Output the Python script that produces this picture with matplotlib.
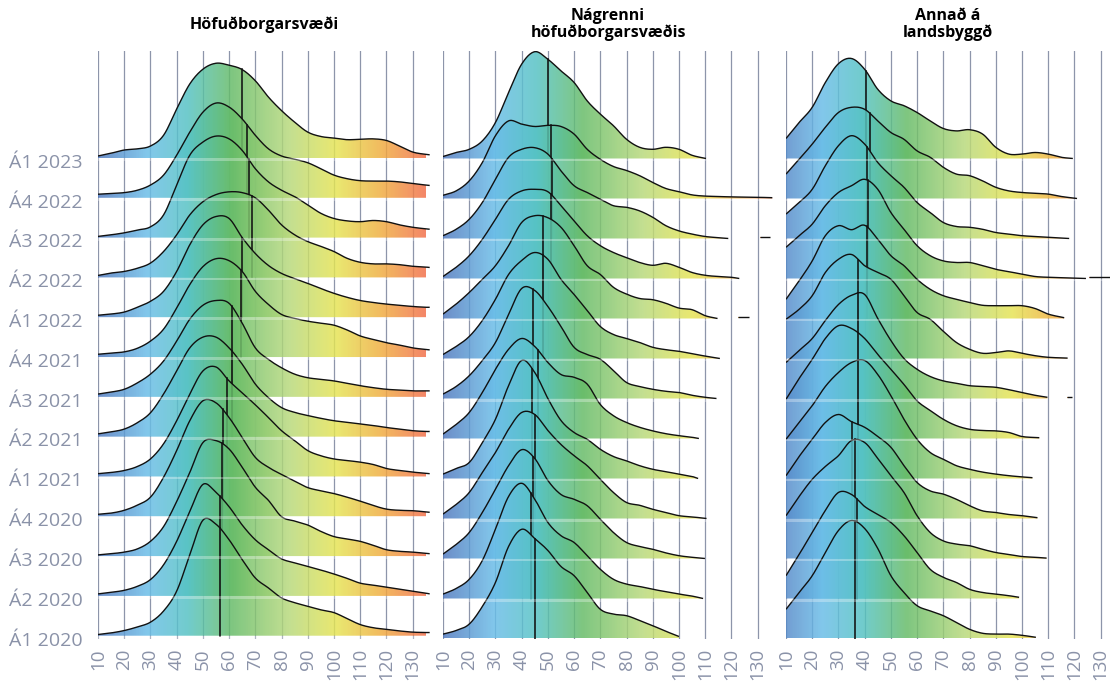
import numpy as np
import matplotlib
matplotlib.use("Agg")
import matplotlib.pyplot as plt
from matplotlib.colors import LinearSegmentedColormap

# Row labels, top row first
ROWS = ["Á1 2023", "Á4 2022", "Á3 2022", "Á2 2022", "Á1 2022", "Á4 2021", "Á3 2021",
        "Á2 2021", "Á1 2021", "Á4 2020", "Á3 2020", "Á2 2020", "Á1 2020"]
TITLES = ["Höfuðborgarsvæði", "Nágrenni\nhöfuðborgarsvæðis", "Annað á\nlandsbyggð"]
X_TICKS = list(range(10, 140, 10))

# Density heights (in row units) read at x = 10, 15, 20, ... ; the last value sits at the row's end x
P1_VALUES = [
    [0.05, 0.12, 0.2, 0.23, 0.3, 0.57, 1.23, 1.86, 2.23, 2.38, 2.33, 2.22, 1.94, 1.53, 1.19, 0.9, 0.65, 0.54, 0.5, 0.46, 0.47, 0.48, 0.44, 0.3, 0.15, 0.09, 0.08],
    [0.09, 0.11, 0.13, 0.19, 0.32, 0.57, 1.07, 1.65, 2.15, 2.38, 2.28, 1.98, 1.57, 1.23, 1.05, 0.97, 0.88, 0.73, 0.57, 0.48, 0.43, 0.42, 0.42, 0.4, 0.36, 0.32, 0.31],
    [0.03, 0.07, 0.12, 0.19, 0.27, 0.57, 1.32, 2.07, 2.4, 2.55, 2.48, 2.19, 1.73, 1.4, 1.19, 1.03, 0.82, 0.61, 0.48, 0.42, 0.4, 0.43, 0.4, 0.32, 0.26, 0.22, 0.21],
    [0.05, 0.11, 0.15, 0.23, 0.36, 0.65, 1.07, 1.57, 1.9, 2.08, 2.15, 2.13, 2.0, 1.69, 1.32, 1.07, 0.9, 0.78, 0.65, 0.48, 0.38, 0.34, 0.34, 0.32, 0.28, 0.26, 0.25],
    [0.05, 0.08, 0.13, 0.25, 0.4, 0.65, 1.15, 1.82, 2.32, 2.53, 2.48, 2.0, 1.6, 1.3, 1.1, 0.97, 0.85, 0.72, 0.6, 0.5, 0.42, 0.37, 0.33, 0.3, 0.27, 0.25, 0.25],
    [0.07, 0.1, 0.13, 0.22, 0.4, 0.7, 1.23, 1.82, 2.27, 2.47, 2.42, 2.15, 1.65, 1.32, 1.07, 0.97, 0.9, 0.85, 0.8, 0.68, 0.53, 0.44, 0.36, 0.3, 0.23, 0.19, 0.18],
    [0.07, 0.12, 0.19, 0.35, 0.57, 0.9, 1.4, 1.95, 2.3, 2.42, 2.35, 1.85, 1.23, 0.94, 0.73, 0.57, 0.48, 0.44, 0.4, 0.34, 0.28, 0.23, 0.19, 0.17, 0.15, 0.15, 0.15],
    [0.07, 0.12, 0.19, 0.35, 0.6, 1.07, 1.65, 2.23, 2.5, 2.5, 2.23, 1.82, 1.32, 0.98, 0.73, 0.61, 0.53, 0.46, 0.4, 0.36, 0.32, 0.28, 0.23, 0.19, 0.15, 0.13, 0.13],
    [0.07, 0.1, 0.15, 0.25, 0.44, 0.82, 1.4, 2.07, 2.65, 2.75, 2.4, 2.1, 1.8, 1.48, 1.15, 0.9, 0.65, 0.52, 0.44, 0.4, 0.36, 0.3, 0.2, 0.15, 0.11, 0.08, 0.07],
    [0.05, 0.08, 0.15, 0.28, 0.48, 0.98, 1.65, 2.4, 2.9, 2.85, 2.48, 1.98, 1.48, 1.23, 1.05, 0.88, 0.72, 0.64, 0.57, 0.48, 0.38, 0.27, 0.18, 0.15, 0.14, 0.11, 0.1],
    [0.03, 0.06, 0.1, 0.18, 0.37, 0.74, 1.37, 2.1, 2.85, 2.9, 2.69, 2.23, 1.73, 1.4, 0.99, 0.88, 0.78, 0.62, 0.49, 0.43, 0.37, 0.27, 0.16, 0.12, 0.1, 0.07, 0.06],
    [0.05, 0.09, 0.14, 0.24, 0.41, 0.78, 1.37, 2.12, 2.8, 2.6, 2.24, 1.78, 1.41, 1.16, 0.93, 0.83, 0.74, 0.65, 0.55, 0.44, 0.32, 0.27, 0.22, 0.17, 0.12, 0.07, 0.05],
    [0.03, 0.07, 0.13, 0.22, 0.34, 0.62, 1.12, 2.03, 2.9, 2.8, 2.41, 1.91, 1.45, 1.2, 0.95, 0.83, 0.74, 0.65, 0.58, 0.43, 0.28, 0.2, 0.16, 0.12, 0.09, 0.08, 0.08],
]
P1_ENDS = [136.5] * 13
P1_MEDIANS = [64.9, 66.8, 67.4, 68.6, 65.0, 64.6, 61.0, 61.0, 59.1, 57.6, 57.4, 56.6, 56.5]

P2_VALUES = [
    [0.05, 0.15, 0.23, 0.44, 0.9, 1.65, 2.36, 2.67, 2.48, 2.19, 1.9, 1.44, 1.11, 0.82, 0.48, 0.28, 0.23, 0.28, 0.23, 0.08, 0.0],
    [0.08, 0.19, 0.44, 0.9, 1.57, 1.94, 1.86, 1.8, 1.83, 1.8, 1.61, 1.23, 0.98, 0.8, 0.7, 0.57, 0.4, 0.25, 0.17, 0.09, 0.06, 0.05, 0.04, 0.035, 0.03, 0.02],
    [0.07, 0.23, 0.48, 0.9, 1.48, 2.03, 2.23, 2.27, 2.11, 1.69, 1.32, 1.15, 0.98, 0.82, 0.78, 0.69, 0.53, 0.32, 0.19, 0.11, 0.05, 0.02, 0.0],
    [0.05, 0.28, 0.57, 0.98, 1.48, 1.98, 2.19, 2.23, 2.17, 1.82, 1.44, 1.07, 0.82, 0.65, 0.52, 0.4, 0.33, 0.38, 0.28, 0.15, 0.08, 0.05, 0.03, 0.0],
    [0.11, 0.36, 0.65, 0.98, 1.32, 1.82, 2.4, 2.57, 2.52, 2.28, 1.82, 1.32, 1.1, 0.78, 0.61, 0.5, 0.47, 0.38, 0.26, 0.22, 0.07, 0.0],
    [0.1, 0.3, 0.55, 0.95, 1.48, 2.1, 2.45, 2.65, 2.48, 1.98, 1.6, 1.2, 0.8, 0.6, 0.5, 0.4, 0.28, 0.22, 0.18, 0.12, 0.06, 0.0],
    [0.11, 0.3, 0.57, 0.95, 1.4, 2.1, 2.75, 2.7, 2.3, 1.8, 1.28, 1.1, 0.98, 0.7, 0.4, 0.3, 0.23, 0.18, 0.15, 0.08, 0.03, 0.0],
    [0.11, 0.35, 0.65, 1.15, 1.73, 2.23, 2.5, 2.3, 1.9, 1.6, 1.53, 1.36, 0.85, 0.57, 0.4, 0.28, 0.19, 0.12, 0.07, 0.03, 0.0],
    [0.11, 0.25, 0.4, 0.9, 1.48, 2.32, 2.95, 2.65, 2.0, 1.45, 1.15, 0.98, 0.73, 0.55, 0.44, 0.32, 0.23, 0.17, 0.11, 0.05, 0.0],
    [0.11, 0.35, 0.65, 1.15, 1.65, 2.23, 2.65, 2.6, 2.2, 1.85, 1.57, 1.32, 0.98, 0.65, 0.4, 0.33, 0.23, 0.15, 0.07, 0.04, 0.0],
    [0.11, 0.35, 0.65, 1.15, 1.73, 2.32, 2.72, 2.5, 1.95, 1.6, 1.48, 1.32, 0.98, 0.65, 0.4, 0.3, 0.23, 0.14, 0.07, 0.03, 0.0],
    [0.11, 0.25, 0.48, 0.95, 1.73, 2.55, 2.88, 2.48, 1.9, 1.57, 1.4, 1.07, 0.73, 0.48, 0.36, 0.3, 0.23, 0.17, 0.11, 0.06, 0.0],
    [0.11, 0.2, 0.36, 0.8, 1.4, 2.3, 2.73, 2.5, 2.2, 1.8, 1.57, 1.15, 0.73, 0.61, 0.57, 0.45, 0.32, 0.18, 0.05],
]
P2_ENDS = [110.3, 135.6, 118.8, 123.0, 114.7, 115.6, 114.3, 107.6, 107.3, 110.5, 109.9, 109.2, 100.0]
P2_MEDIANS = [50.0, 51.1, 51.7, 51.1, 48.2, 48.0, 44.4, 46.3, 44.0, 45.0, 44.5, 43.5, 45.0]

P3_VALUES = [
    [0.5, 0.9, 1.28, 1.9, 2.37, 2.5, 2.23, 1.73, 1.44, 1.32, 1.15, 0.94, 0.75, 0.69, 0.72, 0.61, 0.28, 0.11, 0.11, 0.15, 0.11, 0.03, 0.0],
    [0.61, 0.98, 1.36, 1.78, 2.15, 2.28, 2.23, 1.94, 1.65, 1.48, 1.19, 1.03, 0.78, 0.61, 0.57, 0.44, 0.28, 0.19, 0.15, 0.13, 0.11, 0.05, 0.0],
    [0.61, 0.9, 1.23, 1.82, 2.32, 2.57, 2.36, 1.9, 1.57, 1.28, 0.9, 0.65, 0.4, 0.3, 0.28, 0.23, 0.15, 0.11, 0.07, 0.05, 0.03, 0.01, 0.0],
    [0.78, 1.07, 1.36, 1.82, 2.15, 2.32, 2.48, 2.23, 1.65, 1.23, 0.82, 0.57, 0.44, 0.4, 0.4, 0.32, 0.23, 0.17, 0.11, 0.05, 0.03, 0.02, 0.01, 0.0],
    [0.48, 0.94, 1.44, 2.07, 2.32, 2.22, 2.33, 1.98, 1.57, 1.32, 0.98, 0.73, 0.57, 0.48, 0.4, 0.33, 0.32, 0.32, 0.32, 0.25, 0.11, 0.02],
    [0.98, 1.23, 1.57, 2.15, 2.48, 2.6, 2.32, 2.15, 1.98, 1.57, 1.15, 0.98, 0.68, 0.4, 0.23, 0.13, 0.15, 0.19, 0.13, 0.07, 0.03, 0.01],
    [0.9, 1.2, 1.5, 1.95, 2.35, 2.58, 2.6, 2.0, 1.45, 1.0, 0.73, 0.55, 0.44, 0.38, 0.32, 0.3, 0.28, 0.22, 0.15, 0.08, 0.03],
    [0.98, 1.5, 1.98, 2.5, 2.82, 2.75, 2.5, 2.1, 1.73, 1.35, 0.94, 0.7, 0.48, 0.32, 0.23, 0.2, 0.19, 0.15, 0.05, 0.02],
    [0.98, 1.4, 1.82, 2.3, 2.65, 2.9, 2.95, 2.6, 2.07, 1.48, 0.98, 0.65, 0.48, 0.32, 0.23, 0.16, 0.11, 0.07, 0.04, 0.02],
    [1.07, 1.55, 1.98, 2.4, 2.6, 2.42, 2.28, 2.05, 1.78, 1.32, 0.9, 0.69, 0.61, 0.48, 0.32, 0.19, 0.15, 0.1, 0.07, 0.02],
    [1.07, 1.55, 1.98, 2.3, 2.57, 2.95, 2.9, 2.5, 2.07, 1.65, 1.07, 0.65, 0.44, 0.36, 0.32, 0.23, 0.15, 0.1, 0.05, 0.03, 0.01],
    [0.57, 1.1, 1.65, 2.2, 2.65, 2.6, 2.3, 2.1, 1.9, 1.57, 1.15, 0.73, 0.53, 0.4, 0.23, 0.15, 0.11, 0.07, 0.03],
    [0.73, 1.15, 1.57, 2.15, 2.7, 2.95, 2.75, 2.25, 1.57, 1.15, 0.82, 0.69, 0.57, 0.4, 0.23, 0.13, 0.11, 0.11, 0.08, 0.03],
]
P3_ENDS = [119.4, 121.0, 118.0, 124.4, 116.1, 117.4, 109.7, 106.6, 104.0, 105.9, 109.4, 98.9, 105.3]
P3_MEDIANS = [40.4, 41.9, 40.8, 41.3, 40.8, 37.6, 37.5, 37.5, 37.5, 35.3, 36.5, 37.0, 36.2]

# Isolated single observations: (panel, row index from top, x start, x end)
OUTLIERS = [(1, 2, 130.9, 134.7), (1, 4, 122.6, 126.7), (2, 3, 125.6, 133.9), (2, 6, 117.0, 119.0)]

CMAP = LinearSegmentedColormap.from_list("ridge", [
    (0.00, "#4a68b4"), (0.18, "#6abde8"), (0.30, "#56c3c4"), (0.43, "#66bc68"),
    (0.60, "#b8d97c"), (0.74, "#e6e455"), (0.87, "#f0ae40"), (1.00, "#f2704b")])
COLOR_RANGE = [(5, 135), (5, 140), (0, 130)]
XMAX = [136.5, 136.0, 133.7]
TEXT_GREY = "#8a92a8"
FONT = ["Open Sans", "DejaVu Sans"]


def smooth(xs, ys, n=14):
    xs = np.asarray(xs, float)
    ys = np.asarray(ys, float)
    m = np.empty_like(ys)
    m[0] = (ys[1] - ys[0]) / (xs[1] - xs[0])
    m[-1] = (ys[-1] - ys[-2]) / (xs[-1] - xs[-2])
    if len(xs) > 2:
        m[1:-1] = (ys[2:] - ys[:-2]) / (xs[2:] - xs[:-2])
    out_x, out_y = [], []
    t = np.linspace(0, 1, n, endpoint=False)
    h00 = 2 * t**3 - 3 * t**2 + 1
    h10 = t**3 - 2 * t**2 + t
    h01 = -2 * t**3 + 3 * t**2
    h11 = t**3 - t**2
    for i in range(len(xs) - 1):
        h = xs[i + 1] - xs[i]
        out_x.append(xs[i] + t * h)
        out_y.append(h00 * ys[i] + h10 * h * m[i] + h01 * ys[i + 1] + h11 * h * m[i + 1])
    x = np.concatenate(out_x + [xs[-1:]])
    y = np.concatenate(out_y + [ys[-1:]])
    return x, np.clip(y, 0, None)


def draw_ridge(ax, x, y, base, z, crange):
    lo, hi = crange
    poly = ax.fill(np.r_[x[0], x, x[-1]], np.r_[base, base + y, base],
                   facecolor="none", edgecolor="none", zorder=z)[0]
    grad = np.linspace(lo, hi, 400).reshape(1, -1)
    im = ax.imshow(grad, extent=(lo, hi, base - 0.1, base + 3.6), origin="lower",
                   aspect="auto", cmap=CMAP, vmin=lo, vmax=hi, alpha=0.84,
                   interpolation="bilinear", zorder=z)
    im.set_clip_path(poly)
    ax.plot(x, base + y, color="#111111", lw=1.0, zorder=z + 0.1, solid_capstyle="butt")
    ax.fill_between([x[0], x[-1]], base - 0.075, base - 0.005, color="white",
                    alpha=0.3, lw=0, zorder=90)


fig = plt.figure(figsize=(11.1, 6.82), dpi=100)
panels = [(P1_VALUES, P1_ENDS, P1_MEDIANS), (P2_VALUES, P2_ENDS, P2_MEDIANS),
          (P3_VALUES, P3_ENDS, P3_MEDIANS)]
lefts = [98, 443, 786]
n_rows = len(ROWS)

for p, (values, ends, medians) in enumerate(panels):
    width_px = (XMAX[p] - 10) * 2.622
    ax = fig.add_axes([lefts[p] / 1110, 43.5 / 682, width_px / 1110, 588 / 682])
    for k, vals in enumerate(values):
        base = n_rows - 1 - k
        xs = [10 + 5 * j for j in range(len(vals) - 1)] + [ends[k]]
        x, y = smooth(xs, vals)
        z = 2 + k
        draw_ridge(ax, x, y, base, z, COLOR_RANGE[p])
        med_h = np.interp(medians[k], x, y)
        ax.plot([medians[k], medians[k]], [base, base + med_h], color="#111111",
                lw=1.15, zorder=z + 0.1)
    for (op, row, x0, x1) in OUTLIERS:
        if op == p:
            base = n_rows - 1 - row
            draw_ridge(ax, np.array([x0, x1]), np.array([0.04, 0.04]), base, 2 + row,
                       COLOR_RANGE[p])

    ax.set_xlim(10, XMAX[p])
    ax.set_ylim(0, 14.7)
    ax.set_xticks(X_TICKS)
    ax.set_xticklabels([str(v) for v in X_TICKS], rotation=90, fontsize=13.5,
                       color=TEXT_GREY, family=FONT)
    ax.tick_params(axis="x", length=0, pad=7)
    ax.grid(axis="x", color="#8d95aa", lw=0.9, zorder=0)
    ax.set_axisbelow(True)
    if p == 0:
        ax.set_yticks([b - 0.07 for b in range(n_rows - 1, -1, -1)])
        ax.set_yticklabels(ROWS, fontsize=14, color=TEXT_GREY, family=FONT)
        ax.tick_params(axis="y", length=0, pad=11)
    else:
        ax.set_yticks([])
    for s in ax.spines.values():
        s.set_visible(False)
    cx = (lefts[p] + width_px / 2) / 1110
    fig.text(cx, 1 - 24.5 / 682, TITLES[p], ha="center", va="center", fontsize=11.5,
             fontweight="bold", family=FONT, linespacing=1.1)

fig.savefig("out.png", dpi=100)
